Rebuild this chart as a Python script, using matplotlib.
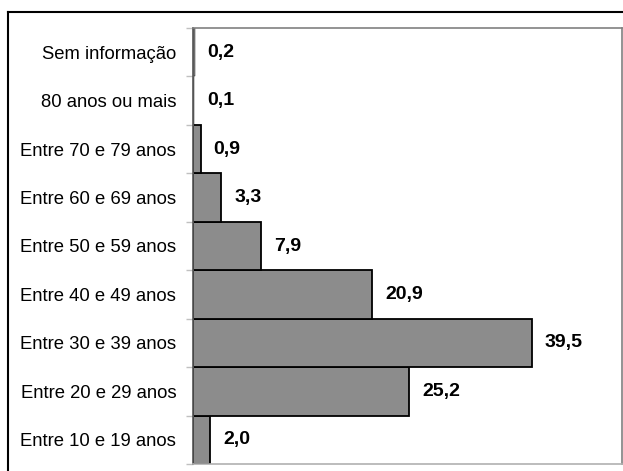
import matplotlib
matplotlib.use("Agg")
import matplotlib.pyplot as plt
from matplotlib.lines import Line2D

categories = ["Entre 10 e 19 anos", "Entre 20 e 29 anos", "Entre 30 e 39 anos",
              "Entre 40 e 49 anos", "Entre 50 e 59 anos", "Entre 60 e 69 anos",
              "Entre 70 e 79 anos", "80 anos ou mais", "Sem informação"]
values = [2.0, 25.2, 39.5, 20.9, 7.9, 3.3, 0.9, 0.1, 0.2]
labels = ["2,0", "25,2", "39,5", "20,9", "7,9", "3,3", "0,9", "0,1", "0,2"]

plt.rcParams['font.family'] = ['Liberation Sans', 'DejaVu Sans']

W, H = 623, 471
fig = plt.figure(figsize=(W/100, H/100), dpi=100)
ax = fig.add_axes([193/W, 1-464/H, (622-193)/W, (464-28)/H])

y = list(range(len(categories)))
bars = ax.barh(y, values, height=1.0, color="#8c8c8c", edgecolor="black", linewidth=1.3)
for b, v in zip(bars, values):
    if v < 0.5:
        b.set_linewidth(0.3)
ax.set_xlim(0, 50)
ax.set_ylim(-0.5, len(categories)-0.5)
ax.set_xticks([])
ax.set_yticks(y)
ax.set_yticklabels(categories, fontsize=13.3)
ax.tick_params(axis='y', length=0, pad=12)
ax.set_yticks([i - 0.5 for i in range(len(categories)+1)], minor=True)
ax.tick_params(axis='y', which='minor', length=5, color="#c0c0c0", width=1)

for s in ax.spines.values():
    s.set_color("#808080")
    s.set_linewidth(1.2)
    s.set_zorder(5)
ax.spines['bottom'].set_color("#b0b0b0")
ax.spines['left'].set_color("#555555")

for yi, v, lab in zip(y, values, labels):
    ax.annotate(lab, (v, yi), xytext=(13, 0), textcoords="offset pixels",
                ha="left", va="center", fontsize=14, fontweight="bold")

# outer frame (top and left edges visible)
fig.add_artist(Line2D([8/W, 1.0], [1-12/H, 1-12/H], transform=fig.transFigure, color="black", lw=1.5))
fig.add_artist(Line2D([8/W, 8/W], [0.0, 1-12/H], transform=fig.transFigure, color="black", lw=1.5))

fig.savefig("out.png", dpi=100)
